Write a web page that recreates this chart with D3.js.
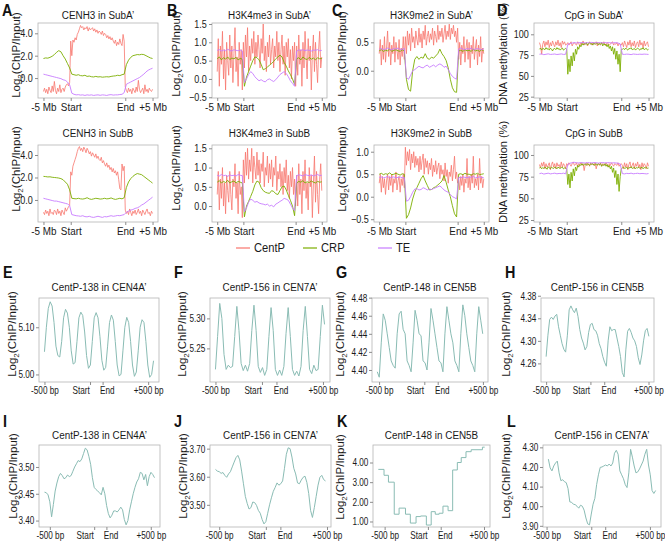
<!DOCTYPE html>
<html>
<head>
<meta charset="utf-8">
<script src="https://cdn.jsdelivr.net/npm/d3@7"></script>
<style>
  body { margin: 0; background: #fff; }
</style>
</head>
<body>
<script>
/* Multi-panel figure: A-D flank profiles around centromeres, E-L CentP repeat profiles. */

// ---- data: A-D, 101 (CentP) or 51 (CRP / TE) samples from -5 Mb to +5 Mb ----
const A1_CentP = [-1.2,-0.9,-1.3,-1.0,-1.4,-0.8,-1.1,-1.3,-0.7,-1.2,-0.3,-1.1,-1.4,-0.9,-1.2,-0.6,-1.3,-1.0,-0.9,-1.2,-0.8,-0.6,-0.5,-0.7,-0.4,
  3.3,2.0,3.4,3.2,3.6,3.4,3.9,4.1,4.4,4.7,4.5,4.6,4.3,4.5,4.4,4.6,4.2,4.5,4.3,4.4,4.5,4.2,4.4,4.1,4.3,4.0,4.2,4.1,3.9,4.2,3.8,4.0,3.9,3.6,3.8,3.5,3.7,3.4,3.6,3.3,3.1,3.4,2.9,3.2,3.0,3.5,3.1,2.9,3.9,3.3,
  -0.8,-1.1,-1.3,-0.9,-1.2,-1.0,-1.4,-0.9,-1.1,-1.3,-0.8,-1.2,-0.2,-1.0,-1.3,-1.1,-0.9,-1.4,-0.6,-1.2,-1.0,-1.3,-0.9,-1.1,-1.2,-1.0];
const A1_CRP = [1.75,1.8,1.78,1.85,1.95,2.1,2.3,2.45,2.35,2.0,1.7,1.3,0.9,
  0.35,0.3,0.25,0.3,0.22,0.2,0.25,0.15,0.18,0.12,0.1,0.15,0.1,0.12,0.08,0.1,0.12,0.1,0.15,0.18,0.2,0.25,0.22,0.3,0.35,
  1.2,1.6,1.85,2.0,2.05,2.1,2.08,2.12,2.1,2.0,1.9,1.8,1.75];
const A1_TE = [0.35,0.3,0.25,0.2,0.15,0.1,0.05,0.0,-0.05,-0.15,-0.2,-0.35,-0.6,
  -1.35,-1.45,-1.5,-1.48,-1.52,-1.5,-1.55,-1.5,-1.53,-1.5,-1.55,-1.52,-1.5,-1.54,-1.5,-1.52,-1.55,-1.5,-1.48,-1.52,-1.5,-1.5,-1.47,-1.45,-1.3,
  -0.55,-0.45,-0.35,-0.25,-0.15,-0.05,0.05,0.2,0.35,0.55,0.7,0.8,0.88];

const A2_CentP = [-1.1,-1.3,-0.9,-1.2,-1.0,-1.4,-0.8,-1.2,-1.1,-1.3,-0.9,-1.0,-1.3,-0.8,-1.2,-1.0,-1.4,-0.9,-1.1,-1.3,-0.7,-1.0,-0.8,-0.6,-0.5,
  2.5,2.2,3.0,3.3,3.6,3.9,4.3,4.6,4.75,4.4,4.6,4.3,4.7,4.5,4.2,4.6,4.4,4.1,4.3,3.9,4.2,4.0,3.8,4.1,3.7,3.9,3.6,3.5,3.8,3.3,3.5,3.2,3.0,3.3,2.9,3.1,2.7,2.9,2.5,2.8,2.4,2.6,2.2,2.5,1.8,1.0,0.9,3.2,2.6,3.0,
  -0.9,-1.2,-1.0,-1.3,-0.8,-1.1,-1.4,-1.0,-1.2,-0.9,-1.3,-1.1,-0.8,-1.2,-1.0,-1.4,-0.9,-1.1,-1.3,-1.0,-0.8,-1.2,-1.1,-1.4,-1.0,-1.2];
const A2_CRP = [2.1,2.08,2.05,2.06,2.02,2.0,1.98,1.95,1.9,1.8,1.6,1.4,0.9,
  0.15,0.12,0.1,0.15,0.1,0.08,0.12,0.2,0.1,0.05,0.1,0.15,0.12,0.08,0.1,0.15,0.1,0.12,0.18,0.1,0.05,0.1,0.15,0.1,0.2,
  1.1,1.6,1.9,2.1,2.25,2.35,2.3,2.25,2.1,1.95,1.8,1.65,1.5];
const A2_TE = [0.15,0.1,0.05,0.0,-0.05,-0.1,-0.1,-0.15,-0.2,-0.25,-0.3,-0.35,-0.5,
  -1.3,-1.35,-1.4,-1.42,-1.45,-1.4,-1.48,-1.5,-1.45,-1.52,-1.55,-1.5,-1.45,-1.5,-1.55,-1.48,-1.5,-1.45,-1.4,-1.45,-1.42,-1.38,-1.4,-1.35,-1.3,
  -1.1,-1.0,-0.9,-0.85,-0.75,-0.7,-0.6,-0.45,-0.35,-0.2,-0.05,0.1,0.25];

const B1_CentP = [0.2,1.1,-0.2,0.9,0.4,1.3,0.0,0.8,-0.3,1.0,0.5,0.1,1.2,0.3,0.9,-0.1,0.7,1.4,0.2,0.6,-0.2,1.0,0.4,0.8,-0.3,
  1.0,0.3,1.2,0.6,1.4,0.2,0.9,0.5,1.1,0.7,1.3,0.4,1.0,0.6,1.2,0.8,0.3,1.1,0.7,1.5,0.5,0.9,0.2,1.0,0.6,1.2,0.4,0.8,1.1,0.3,0.9,0.6,1.3,0.5,1.0,0.2,0.8,1.2,0.4,0.9,0.1,1.0,0.6,1.1,0.3,0.8,0.0,0.9,0.5,1.0,-0.2,
  0.9,0.1,1.2,0.4,0.8,-0.2,1.0,0.3,1.3,0.6,0.0,1.1,0.5,0.9,-0.3,0.7,1.2,0.2,1.0,0.4,-0.1,0.8,1.3,0.3,0.6];
const B1_CRP = [0.55,0.6,0.52,0.58,0.54,0.6,0.53,0.57,0.55,0.59,0.52,0.56,0.54,
  -0.2,0.05,0.2,0.35,0.5,0.6,0.58,0.52,0.4,0.25,0.28,0.32,0.38,0.42,0.48,0.55,0.6,0.65,0.6,0.45,0.35,0.22,0.12,0.0,-0.15,
  0.55,0.58,0.52,0.6,0.55,0.53,0.59,0.54,0.57,0.52,0.58,0.55,0.56];
const B1_TE = [0.78,0.8,0.76,0.79,0.77,0.81,0.78,0.76,0.8,0.78,0.77,0.79,0.76,
  -0.1,0.0,0.12,0.2,0.15,0.06,0.0,-0.05,-0.02,-0.06,-0.08,-0.02,0.0,-0.04,-0.07,-0.02,0.05,0.12,0.16,0.2,0.15,0.06,-0.05,-0.12,-0.2,
  0.76,0.79,0.78,0.8,0.77,0.79,0.78,0.76,0.79,0.78,0.8,0.77,0.78];

const B2_CentP = [0.3,0.9,-0.1,0.7,0.2,1.0,0.0,0.6,-0.2,0.8,0.4,0.1,0.9,0.3,-0.1,0.7,0.5,1.1,0.2,0.6,-0.2,0.9,0.3,0.5,-0.3,
  1.2,0.6,1.4,0.8,1.5,0.7,1.2,0.9,1.5,0.6,1.3,1.0,0.7,1.4,0.8,1.2,0.6,1.1,0.9,1.4,0.5,1.0,0.8,1.3,0.6,1.1,0.7,1.2,0.5,1.0,0.8,1.3,0.4,0.9,0.7,1.1,0.5,0.9,0.3,1.0,0.6,1.2,0.4,0.8,0.2,0.9,0.5,1.0,0.3,0.7,0.0,
  0.8,0.0,1.1,0.3,0.7,-0.2,0.9,0.4,1.2,0.2,0.6,-0.1,1.0,0.5,0.8,-0.3,0.6,1.3,0.1,0.9,0.3,-0.2,0.7,1.1,0.4];
const B2_CRP = [0.62,0.66,0.6,0.64,0.61,0.67,0.6,0.63,0.65,0.6,0.64,0.62,0.6,
  -0.28,0.0,0.12,0.25,0.38,0.55,0.65,0.62,0.48,0.4,0.36,0.34,0.33,0.4,0.38,0.32,0.3,0.4,0.5,0.52,0.42,0.28,0.15,0.0,-0.25,
  0.6,0.64,0.62,0.66,0.6,0.63,0.61,0.65,0.62,0.6,0.64,0.62,0.63];
const B2_TE = [0.8,0.78,0.82,0.79,0.8,0.77,0.81,0.79,0.8,0.78,0.82,0.8,0.79,
  -0.15,-0.05,0.1,0.18,0.15,0.1,0.12,0.08,0.06,0.05,0.03,0.05,0.0,0.02,-0.02,0.05,0.08,0.12,0.15,0.2,0.18,0.15,0.05,-0.05,-0.12,
  0.79,0.81,0.8,0.78,0.82,0.8,0.79,0.81,0.78,0.8,0.82,0.79,0.8];

const C1_CentP = [0.3,0.55,0.1,0.45,0.2,0.6,0.15,0.4,0.7,0.25,0.5,0.1,0.45,0.3,0.6,0.15,0.5,0.35,0.2,0.55,0.1,0.4,0.25,0.6,0.2,
  0.6,0.3,0.7,0.45,0.65,0.35,0.75,0.5,0.6,0.4,0.7,0.55,0.45,0.75,0.5,0.65,0.4,0.7,0.55,0.8,0.45,0.6,0.7,0.5,0.65,0.55,0.75,0.45,0.7,0.6,0.5,0.8,0.55,0.7,0.6,0.75,0.5,0.65,0.8,0.55,0.7,0.6,0.82,0.55,0.75,0.65,0.8,0.6,0.7,0.5,0.75,
  0.2,0.5,0.1,0.45,0.3,0.6,0.15,0.4,0.55,0.2,0.5,0.05,0.45,0.3,0.6,0.2,0.4,0.55,0.1,0.45,0.25,0.6,0.15,0.4,0.3];
const C1_CRP = [0.35,0.37,0.34,0.36,0.35,0.38,0.34,0.36,0.37,0.35,0.34,0.37,0.35,
  -0.15,-0.33,-0.36,0.0,0.2,0.25,0.2,0.24,0.22,0.3,0.22,0.2,0.24,0.22,0.26,0.3,0.38,0.3,0.25,0.18,0.05,-0.15,-0.3,-0.37,-0.38,
  0.35,0.36,0.34,0.37,0.35,0.36,0.34,0.38,0.35,0.36,0.34,0.37,0.35];
const C1_TE = [0.38,0.39,0.37,0.38,0.4,0.38,0.37,0.39,0.38,0.4,0.37,0.38,0.39,
  -0.12,-0.15,-0.08,0.0,0.02,0.05,0.08,0.06,0.05,0.08,0.1,0.06,0.08,0.1,0.07,0.1,0.12,0.1,0.06,0.08,0.02,-0.05,-0.1,-0.13,-0.15,
  0.38,0.4,0.38,0.37,0.39,0.38,0.4,0.37,0.38,0.39,0.38,0.37,0.39];

const C2_CentP = [0.3,0.5,0.1,0.45,0.2,0.4,0.05,0.35,0.5,0.15,0.45,0.25,0.5,0.1,0.4,0.3,0.55,0.15,0.35,0.45,0.1,0.4,0.25,0.5,0.2,
  1.1,0.7,1.0,0.8,1.05,0.6,0.95,0.75,1.0,0.65,0.9,0.7,0.85,0.55,0.9,0.6,0.8,0.95,0.5,0.85,0.65,0.8,0.5,0.75,0.6,0.85,0.45,0.7,0.55,0.8,0.5,0.65,0.75,0.4,0.7,0.5,0.6,0.35,0.75,0.45,0.6,0.3,0.55,0.45,0.7,0.35,0.6,0.9,0.4,0.55,0.3,
  0.4,0.15,0.45,0.25,0.5,0.1,0.4,0.3,0.85,0.2,0.45,0.15,0.5,0.3,0.9,0.2,0.4,0.25,0.5,0.15,0.85,0.3,0.45,0.2,0.4];
const C2_CRP = [0.5,0.52,0.49,0.51,0.5,0.53,0.49,0.5,0.52,0.5,0.48,0.51,0.5,
  -0.48,-0.4,-0.25,-0.05,0.1,0.2,0.3,0.4,0.47,0.35,0.25,0.15,0.16,0.2,0.22,0.26,0.3,0.35,0.47,0.32,0.15,0.0,-0.2,-0.38,-0.45,
  0.5,0.51,0.49,0.52,0.5,0.5,0.48,0.51,0.5,0.52,0.49,0.5,0.51];
const C2_TE = [0.43,0.44,0.42,0.43,0.45,0.42,0.43,0.44,0.42,0.43,0.44,0.42,0.43,
  -0.1,-0.08,0.0,0.1,0.17,0.18,0.15,0.16,0.2,0.18,0.15,0.17,0.16,0.18,0.2,0.22,0.24,0.2,0.15,0.12,0.1,0.05,0.0,-0.02,-0.05,
  0.43,0.42,0.44,0.43,0.42,0.44,0.43,0.45,0.42,0.43,0.44,0.43,0.42];

const D1_CentP = [90,86,76,88,92,85,91,87,93,84,90,86,92,88,85,91,87,93,86,90,84,92,88,91,87,
  88,90,87,89,91,86,89,90,88,87,91,89,86,90,88,92,87,89,90,86,88,91,89,87,90,88,89,91,86,90,88,87,90,89,91,88,86,90,89,87,88,90,91,87,89,88,90,86,89,88,87,
  90,85,92,88,84,91,87,93,85,90,86,92,84,89,91,85,93,87,90,84,92,86,89,91,85];
const D1_CRP = [82,83.5,81,83,82.5,81.5,84,82,83,81,83.5,82,80,82.5,83,81.5,84,82,83,81,82.5,83.5,81,82,83,
  82,52,70,55,74,62,78,68,82,76,85,82,87,85,89,87,89,88,90,87,89,90,88,89,87,90,88,89,90,87,89,88,90,86,89,87,88,85,88,83,86,80,85,76,83,70,80,64,76,55,82,
  82,83,81.5,83.5,82,81,83,82.5,84,81.5,82,83,81,82.5,83.5,82,81,83,82,84,81.5,82.5,83,81,82];
const D1_TE = [76,76.5,75.5,76,76.5,75.8,76,76.3,75.7,76,76.4,75.8,76,
  88,89,89.5,90,89.5,90,89.8,90.2,89.5,90,89.8,90.3,89.6,90,89.8,90.2,89.5,90,89.7,90.1,89.5,89.8,90,89.5,88.5,
  76,75.8,76.2,76,75.6,76.3,76,75.8,76.1,75.9,76.2,76,75.8];

const D2_CentP = [89,85,91,87,92,84,90,86,88,91,83,89,92,86,90,84,91,87,89,85,92,86,90,88,84,
  90,88,91,89,87,90,92,88,89,91,86,90,89,91,88,90,82,89,91,88,90,87,91,89,90,88,91,84,89,90,88,91,87,90,89,88,91,89,86,90,88,91,89,87,90,89,88,91,87,89,90,
  88,84,91,86,90,83,89,92,85,88,91,84,90,87,92,85,89,83,91,86,90,88,84,91,87];
const D2_CRP = [85,86,84,85.5,84.5,86,85,83.5,86.5,85,84,86,85,84.5,86,85.5,84,86,85,84.5,85.5,86,84,85,85,
  84,66,78,62,80,70,84,76,86,82,88,86,89,88,90,88,89,90,88,90,89,88,90,89,90,88,89,90,88,90,89,90,87,89,88,90,87,89,86,88,84,87,80,85,74,82,66,78,58,75,84,
  85,86,84.5,85,86,84,85.5,85,86.5,84.5,85,86,84,85.5,85,86,84.5,85,86,84,85.5,85,86,84.5,85];
const D2_TE = [78.5,79,78,78.5,79,78.2,78.6,79,78.3,78.7,78.5,79,78.2,
  89,90.5,91,91.5,91,90.8,91.2,91,90.7,91.3,91,90.8,91.2,91,90.6,91,91.3,90.8,91,91.2,90.7,91,90.8,90.5,89.5,
  78.5,78.2,78.8,78.5,79,78.3,78.6,78.9,78.4,78.7,78.5,78.2,78.6];

// ---- data: E-L, log2(ChIP/Input) sampled every STEP bp from START ----
const E_START = -500, E_STEP = 21;
const E_LOG2 = [5.048,5.10,5.14,5.154,5.145,5.11,5.06,5.04,5.037,5.07,5.12,5.138,5.13,5.10,5.05,5.022,5.025,5.07,5.12,5.132,
  5.125,5.09,5.04,5.013,5.02,5.07,5.12,5.131,5.12,5.08,5.03,5.009,5.015,5.06,5.11,5.126,5.115,5.07,5.02,4.997,
  5.00,5.05,5.10,5.121,5.11,5.07,5.02,4.996,5.005,5.05,5.10,5.116,5.11,5.07,5.02,4.994,5.00,5.029];
const F_START = -500, F_STEP = 23;
const F_LOG2 = [5.215,5.27,5.325,5.30,5.24,5.215,5.222,5.218,5.22,5.27,5.32,5.28,5.225,5.213,5.222,5.212,5.225,5.28,5.322,5.28,
  5.22,5.21,5.218,5.205,5.215,5.27,5.318,5.28,5.215,5.205,5.214,5.205,5.22,5.275,5.318,5.27,5.215,5.205,5.212,5.204,
  5.22,5.28,5.32,5.27,5.215,5.208,5.222,5.213,5.215,5.27,5.322,5.29];
const G_START = -520, G_STEP = 22;
const G_LOG2 = [4.398,4.392,4.43,4.462,4.455,4.44,4.425,4.41,4.405,4.402,4.44,4.462,4.465,4.445,4.44,4.41,4.405,4.398,4.43,4.466,
  4.455,4.44,4.438,4.41,4.408,4.40,4.43,4.468,4.455,4.44,4.425,4.41,4.408,4.398,4.44,4.47,4.455,4.44,4.43,4.41,
  4.405,4.398,4.44,4.472,4.46,4.44,4.425,4.41,4.405,4.398,4.44,4.47,4.455,4.44];
const H_START = -500, H_STEP = 20;
const H_LOG2 = [4.272,4.31,4.338,4.342,4.338,4.344,4.347,4.325,4.31,4.295,4.285,4.28,4.31,4.355,4.362,4.355,4.35,4.358,4.343,4.32,
  4.305,4.296,4.284,4.29,4.315,4.329,4.331,4.32,4.318,4.31,4.295,4.286,4.272,4.262,4.255,4.30,4.325,4.318,4.32,4.32,
  4.305,4.29,4.272,4.244,4.236,4.284,4.317,4.322,4.315,4.305,4.30,4.29,4.27,4.258,4.275,4.30,4.318,4.322,4.308];
const I_START = -560, I_STEP = 20;
const I_LOG2 = [3.453,3.452,3.448,3.435,3.407,3.43,3.455,3.47,3.482,3.488,3.484,3.478,3.48,3.485,3.482,3.484,3.492,3.50,3.506,3.512,
  3.51,3.515,3.525,3.535,3.532,3.52,3.505,3.48,3.462,3.458,3.455,3.452,3.448,3.462,3.45,3.428,3.413,3.405,3.41,3.418,
  3.418,3.416,3.42,3.425,3.42,3.402,3.392,3.40,3.42,3.435,3.45,3.462,3.472,3.478,3.49,3.488,3.476,3.486,3.465,3.482,
  3.49,3.486,3.48];
const J_START = -540, J_STEP = 20;
const J_LOG2 = [3.626,3.62,3.618,3.612,3.615,3.605,3.598,3.61,3.618,3.635,3.652,3.668,3.676,3.66,3.62,3.575,3.53,3.505,3.485,3.49,
  3.51,3.508,3.498,3.48,3.47,3.448,3.432,3.44,3.47,3.50,3.525,3.548,3.562,3.578,3.57,3.575,3.585,3.63,3.68,3.703,
  3.70,3.67,3.63,3.61,3.578,3.575,3.588,3.598,3.602,3.58,3.54,3.48,3.455,3.49,3.53,3.57,3.598,3.605,3.59,3.585];
// K is a step profile: level K_LEVEL[i] holds from K_EDGE[i] to K_EDGE[i+1]
const K_EDGE = [-573,-507,-456,-389,-333,-259,-203,-137,-85,-18,38,85,130,174,233,286,340,385,440,500,630,656];
const K_LEVEL = [3.65,3.35,3.0,1.37,1.68,1.37,0.92,1.25,1.28,0.82,1.5,1.37,1.42,1.78,1.55,3.62,4.0,4.25,4.55,4.65,4.78];
const L_START = -480, L_STEP = 20;
const L_LOG2 = [4.24,4.195,4.18,4.205,4.22,4.23,4.17,4.13,4.135,4.125,4.12,4.09,4.022,4.02,4.01,4.008,4.0,3.99,4.005,4.0,
  3.98,3.94,3.91,3.905,3.96,4.01,4.04,4.11,4.16,4.198,4.20,4.205,4.21,4.205,4.215,4.205,4.22,4.27,4.285,4.265,
  4.18,4.16,4.14,4.11,4.095,4.17,4.29,4.25,4.205,4.17,4.175,4.19,4.21,4.23,4.265,4.29,4.21,4.16,4.08,4.065,4.08];

// ---- axis ticks / labels ----
const FLANK_TICKS = [0, 25, 75, 100];
const FLANK_LABELS = ["-5 Mb", "Start", "End", "+5 Mb"];
const BP_LABELS = ["-500 bp", "Start", "End", "+500 bp"];
const SERIES = ["CentP", "CRP", "TE"];

const COLORS = { CentP: "#f8766d", CRP: "#7cae00", TE: "#c77cff" };
const REPEAT_COLOR = "#8abcb4";
const FONT = "'Liberation Sans', Arial, sans-serif";
const SX = 0.86;   // the source figure is squeezed horizontally; horizontal text follows it

const svg = d3.select("body").append("svg").attr("width", 665).attr("height", 543);

const flankPts = vals => vals.map((v, i) => [i / (vals.length - 1) * 100, v]);
const bpPts = (vals, start, step) => vals.map((v, i) => [start + i * step, v]);

// horizontal text, squeezed like the original
function hText(parent, x, y, str, size, anchor) {
  return parent.append("text")
    .attr("transform", `translate(${x},${y}) scale(${SX},1)`)
    .attr("text-anchor", anchor || "start")
    .attr("font-family", FONT).attr("font-size", size).attr("fill", "#1a1a1a")
    .text(str);
}

function drawPanel(p) {
  const b = p.box;
  const g = svg.append("g");
  const all = p.series.flatMap(s => s.points.map(d => d[0]));
  const [x0, x1] = d3.extent(all);
  const pad = (x1 - x0) * 0.05;
  const x = d3.scaleLinear().domain([x0 - pad, x1 + pad]).range([b.x, b.x + b.w]);
  const y = d3.scaleLinear().domain(p.yDomain).range([b.y + b.h, b.y]);

  g.append("clipPath").attr("id", "clip-" + p.id)
    .append("rect").attr("x", b.x).attr("y", b.y).attr("width", b.w).attr("height", b.h);
  const plot = g.append("g").attr("clip-path", `url(#clip-${p.id})`);
  p.series.forEach(s => {
    plot.append("path").datum(s.points)
      .attr("fill", "none")
      .attr("stroke", s.color)
      .attr("stroke-width", s.width || 0.9)
      .attr("stroke-linejoin", "round")
      .attr("d", d3.line().x(d => x(d[0])).y(d => y(d[1])).curve(s.curve || d3.curveLinear));
  });

  g.append("rect").attr("x", b.x).attr("y", b.y).attr("width", b.w).attr("height", b.h)
    .attr("fill", "none").attr("stroke", "#b5b5b5").attr("stroke-width", 0.8);

  const xa = g.append("g").attr("transform", `translate(0,${b.y + b.h})`)
    .call(d3.axisBottom(x).tickValues(p.xTicks).tickFormat((d, i) => p.xLabels[i]).tickSize(3).tickPadding(2));
  const ya = g.append("g").attr("transform", `translate(${b.x},0)`)
    .call(d3.axisLeft(y).tickValues(p.yTicks).tickFormat(d3.format(p.yFormat)).tickSize(3).tickPadding(3));
  const tsx = p.tickSX || SX;
  [xa, ya].forEach(a => {
    a.select(".domain").remove();
    a.selectAll("line").attr("stroke", "#8c8c8c");
    a.selectAll("text").attr("font-family", FONT).attr("fill", "#1a1a1a")
      .attr("transform", `scale(${tsx},1)`);
  });
  xa.selectAll("text").attr("font-size", p.tickFont);
  ya.selectAll("text").attr("font-size", p.yTickFont || p.tickFont);
  if (p.splitStartEnd) {
    // "Start" sits left of its tick, "End" to the right, so the two do not collide
    xa.selectAll(".tick text").filter((d, i) => i === 1).attr("text-anchor", "end").attr("x", -1);
    xa.selectAll(".tick text").filter((d, i) => i === 2).attr("text-anchor", "start").attr("x", -4);
  }

  hText(g, b.x + b.w / 2, p.titleY, p.title, 11.5, "middle");

  if (p.letter) {
    g.append("text").attr("transform", `translate(${p.letter[1]},${p.letter[2]}) scale(0.9,1)`)
      .attr("font-family", FONT).attr("font-weight", "bold").attr("font-size", 16)
      .attr("fill", "#111").text(p.letter[0]);
  }

  const t = g.append("text")
    .attr("transform", `translate(${p.ylabX},${p.ylabY}) rotate(-90)`)
    .attr("text-anchor", "middle").attr("font-family", FONT).attr("font-size", p.ylabFont || 11.5).attr("fill", "#1a1a1a");
  if (p.ylab === "log2") {
    t.append("tspan").text("Log");
    t.append("tspan").attr("dy", 3).attr("font-size", 8).text("2");
    t.append("tspan").attr("dy", -3).text("(ChIP/Input)");
  } else {
    t.text(p.ylab);
  }
}

// ---- panels A-D ----
function flankSeries(red, green, purple) {
  return [
    { color: COLORS.CentP, points: flankPts(red), width: 0.8 },
    { color: COLORS.CRP, points: flankPts(green) },
    { color: COLORS.TE, points: flankPts(purple) }
  ];
}

const ROW1 = { y: 23, h: 75 }, ROW2 = { y: 145, h: 77 };
const flankPanels = [
  { id: "A1", letter: ["A", 2, 16], title: "CENH3 in SubA’", titleY: 19, box: { x: 38, w: 120, ...ROW1 }, ylabX: 20, ylabY: 55,
    yDomain: [-1.78, 4.92], yTicks: [0, 2, 4], yFormat: ".1f", ylab: "log2", series: flankSeries(A1_CentP, A1_CRP, A1_TE) },
  { id: "B1", letter: ["B", 167, 16], title: "H3K4me3 in SubA’", titleY: 19, box: { x: 212, w: 115, ...ROW1 }, ylabX: 180, ylabY: 54,
    yDomain: [-0.52, 1.527], yTicks: [-0.5, 0, 0.5, 1, 1.5], yFormat: ".1f", ylab: "log2", series: flankSeries(B1_CentP, B1_CRP, B1_TE) },
  { id: "C1", letter: ["C", 332, 16], title: "H3K9me2 in SubA’", titleY: 19, box: { x: 374, w: 115, ...ROW1 }, ylabX: 346, ylabY: 54,
    yDomain: [-0.48, 0.84], yTicks: [0, 0.5], yFormat: ".1f", ylab: "log2", series: flankSeries(C1_CentP, C1_CRP, C1_TE) },
  { id: "D1", letter: ["D", 497, 16], title: "CpG in SubA’", titleY: 19, box: { x: 534, w: 120, ...ROW1 }, ylabX: 507, ylabY: 54, ylabFont: 11,
    yDomain: [23.4, 113.6], yTicks: [25, 50, 75, 100], yFormat: "d", ylab: "DNA methylation (%)", series: flankSeries(D1_CentP, D1_CRP, D1_TE) },
  { id: "A2", title: "CENH3 in SubB", titleY: 137, box: { x: 38, w: 120, ...ROW2 }, ylabX: 20, ylabY: 169,
    yDomain: [-1.96, 4.89], yTicks: [0, 2, 4], yFormat: ".1f", ylab: "log2", series: flankSeries(A2_CentP, A2_CRP, A2_TE) },
  { id: "B2", title: "H3K4me3 in SubB", titleY: 137, box: { x: 212, w: 115, ...ROW2 }, ylabX: 180, ylabY: 168,
    yDomain: [-0.414, 1.586], yTicks: [0, 0.5, 1, 1.5], yFormat: ".1f", ylab: "log2", series: flankSeries(B2_CentP, B2_CRP, B2_TE) },
  { id: "C2", title: "H3K9me2 in SubB", titleY: 137, box: { x: 374, w: 115, ...ROW2 }, ylabX: 346, ylabY: 169,
    yDomain: [-0.562, 1.149], yTicks: [-0.5, 0, 0.5, 1], yFormat: ".1f", ylab: "log2", series: flankSeries(C2_CentP, C2_CRP, C2_TE) },
  { id: "D2", title: "CpG in SubB", titleY: 137, box: { x: 534, w: 120, ...ROW2 }, ylabX: 507, ylabY: 172, ylabFont: 11,
    yDomain: [22.7, 111.5], yTicks: [25, 50, 75, 100], yFormat: "d", ylab: "DNA methylation (%)", series: flankSeries(D2_CentP, D2_CRP, D2_TE) }
];
flankPanels.forEach(p => drawPanel({ ...p, xTicks: FLANK_TICKS, xLabels: FLANK_LABELS, tickFont: 11.5, yTickFont: 10.5 }));

// ---- legend ----
const legend = svg.append("g");
const legendX = [236, 303, 378];
SERIES.forEach((name, i) => {
  legend.append("line").attr("x1", legendX[i]).attr("x2", legendX[i] + 14).attr("y1", 248).attr("y2", 248)
    .attr("stroke", COLORS[name]).attr("stroke-width", 1.2);
  hText(legend, legendX[i] + 18, 252, name, 13);
});

// ---- panels E-L ----
function repeatPanel(id, title, unit, points, box, yDomain, yTicks, ylabX, ylabY, titleY, letterY, curve) {
  return {
    id, title, box, yDomain, yTicks, ylabX, ylabY, titleY,
    letter: [id, box.x - 36, letterY],
    xTicks: [-500, 0, unit, unit + 500], xLabels: BP_LABELS, splitStartEnd: true,
    yFormat: ".2f", ylab: "log2", tickFont: 10.5, tickSX: 0.78,
    series: [{ color: REPEAT_COLOR, points, curve, width: 1 }]
  };
}
const ROW3 = { y: 298, h: 84 }, ROW4 = { y: 445, h: 82 };
const kPts = K_LEVEL.map((v, i) => [K_EDGE[i], v]).concat([[K_EDGE[K_EDGE.length - 1], K_LEVEL[K_LEVEL.length - 1]]]);
const repeatPanels = [
  repeatPanel("E", "CentP-138 in CEN4A’", 138, bpPts(E_LOG2, E_START, E_STEP), { x: 39, w: 120, ...ROW3 },
    [4.984, 5.162], [5.00, 5.10], 16, 334, 291, 278),
  repeatPanel("F", "CentP-156 in CEN7A’", 156, bpPts(F_LOG2, F_START, F_STEP), { x: 210, w: 120, ...ROW3 },
    [5.194, 5.334], [5.25, 5.30], 186, 334, 291, 278),
  repeatPanel("G", "CentP-148 in CEN5B", 148, bpPts(G_LOG2, G_START, G_STEP), { x: 372, w: 116, ...ROW3 },
    [4.3867, 4.4796], [4.40, 4.42, 4.44, 4.46, 4.48], 344, 334, 291, 278),
  repeatPanel("H", "CentP-156 in CEN5B", 156, bpPts(H_LOG2, H_START, H_STEP), { x: 541, w: 113, ...ROW3 },
    [4.227, 4.376], [4.26, 4.30, 4.34, 4.38], 510, 334, 291, 278),
  repeatPanel("I", "CentP-138 in CEN4A’", 138, bpPts(I_LOG2, I_START, I_STEP), { x: 39, w: 121, ...ROW4 },
    [3.388, 3.541], [3.40, 3.45, 3.50], 17, 476, 439, 427),
  repeatPanel("J", "CentP-156 in CEN7A’", 156, bpPts(J_LOG2, J_START, J_STEP), { x: 210, w: 121, ...ROW4 },
    [3.421, 3.713], [3.50, 3.60, 3.70], 187, 476, 439, 427),
  repeatPanel("K", "CentP-148 in CEN5B", 148, kPts, { x: 373, w: 117, ...ROW4 },
    [0.72, 4.89], [1, 2, 3, 4], 344, 477, 439, 427, d3.curveStepAfter),
  repeatPanel("L", "CentP-156 in CEN7A’", 156, bpPts(L_LOG2, L_START, L_STEP), { x: 543, w: 118, ...ROW4 },
    [3.894, 4.312], [3.90, 4.00, 4.10, 4.20, 4.30], 510, 476, 439, 427)
];
repeatPanels.forEach(drawPanel);
</script>
</body>
</html>
